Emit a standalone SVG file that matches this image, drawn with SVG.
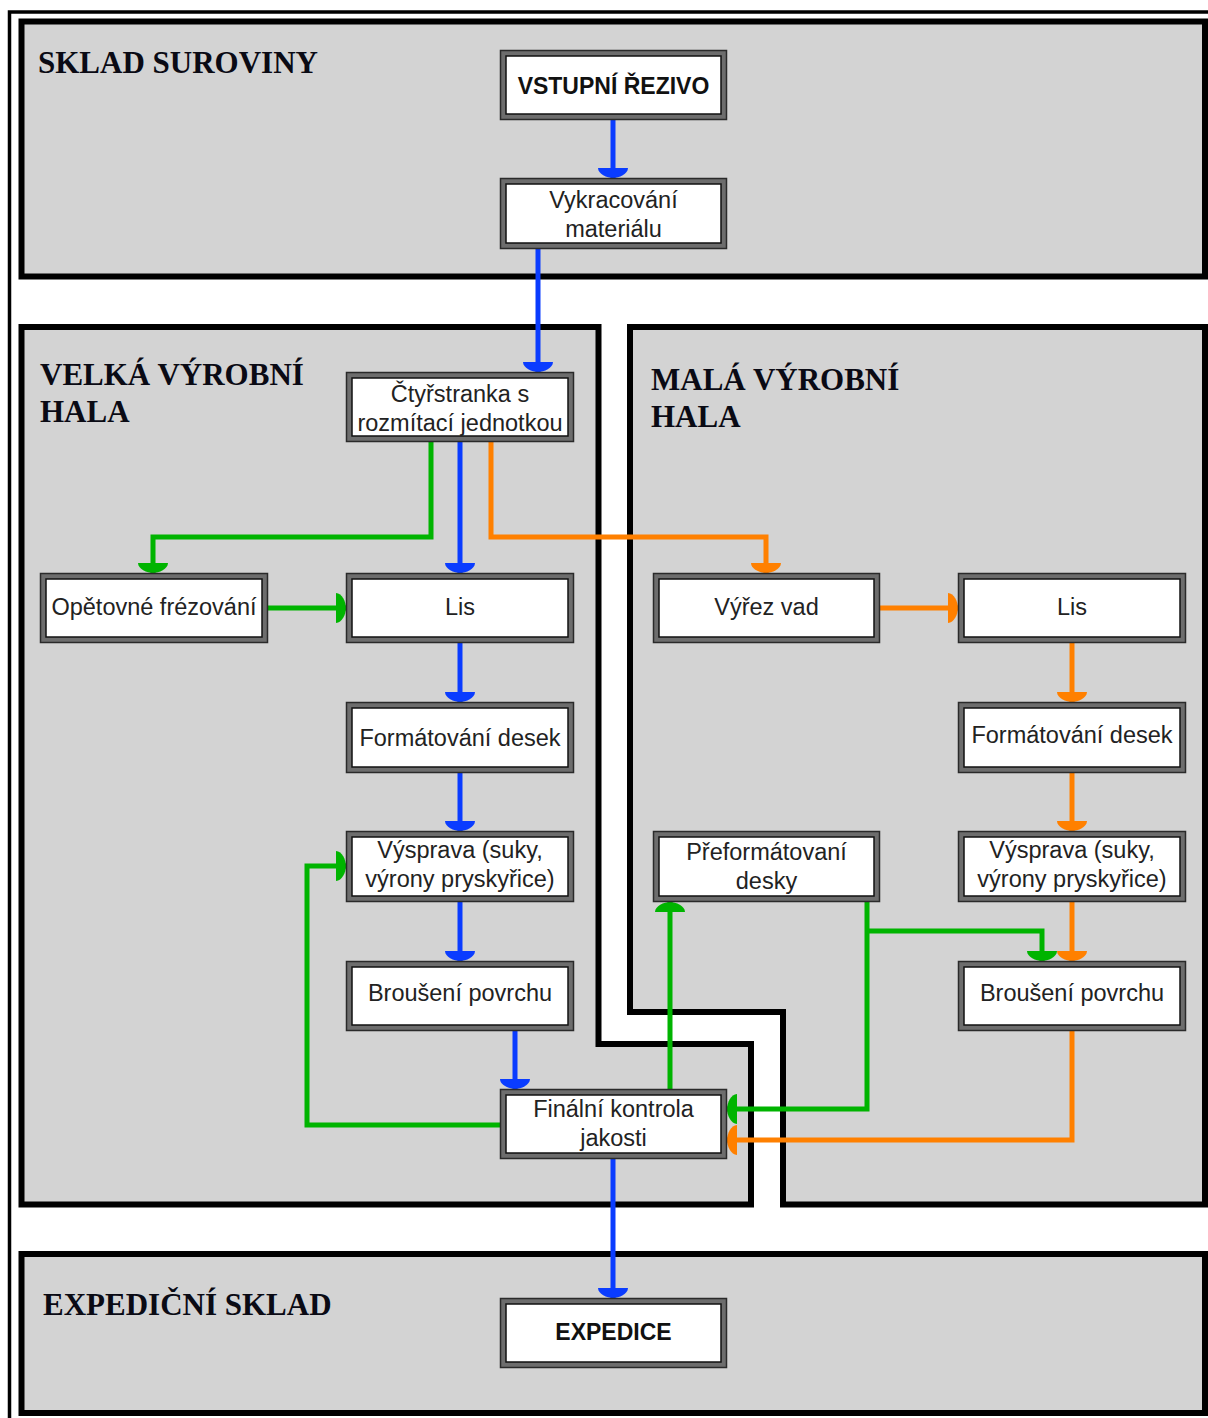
<svg xmlns="http://www.w3.org/2000/svg" width="1208" height="1418" viewBox="0 0 1208 1418">
<defs>
<style>
.reg{fill:#d3d3d3;stroke:#000;stroke-width:6;stroke-linejoin:miter}
.rt{font-family:"Liberation Serif","Times New Roman",serif;font-weight:bold;font-size:31px;fill:#0a0a14}
.bo{fill:#6d6d6d;stroke:#2a2a2a;stroke-width:1.5}
.bi{fill:#fff;stroke:#111;stroke-width:1.5}
.t{font-family:"Liberation Sans",Arial,sans-serif;font-size:23.5px;fill:#222;text-anchor:middle}
.tb{font-family:"Liberation Sans",Arial,sans-serif;font-size:23px;font-weight:bold;fill:#111;text-anchor:middle}
.c{fill:none;stroke-width:5;stroke-linejoin:miter}
.bl{stroke:#0a3cff}
.gr{stroke:#00b400}
.or{stroke:#ff8000}
</style>
<marker id="ab" markerUnits="userSpaceOnUse" markerWidth="14" markerHeight="32" refX="11" refY="16" orient="auto"><path d="M1,1 L1,31 C7,31 11,22 11,16 C11,10 7,1 1,1 Z" fill="#0a3cff"/></marker>
<marker id="ag" markerUnits="userSpaceOnUse" markerWidth="14" markerHeight="32" refX="11" refY="16" orient="auto"><path d="M1,1 L1,31 C7,31 11,22 11,16 C11,10 7,1 1,1 Z" fill="#00b400"/></marker>
<marker id="ao" markerUnits="userSpaceOnUse" markerWidth="14" markerHeight="32" refX="11" refY="16" orient="auto"><path d="M1,1 L1,31 C7,31 11,22 11,16 C11,10 7,1 1,1 Z" fill="#ff8000"/></marker>
</defs>
<rect width="1208" height="1418" fill="#fff"/>
<rect x="9.5" y="12" width="1400" height="1500" fill="none" stroke="#000" stroke-width="3.5"/>

<g id="regions">
<g id="sklad-suroviny">
<rect class="reg" x="21.5" y="21.5" width="1183.5" height="255"/>
<text class="rt" x="38" y="73">SKLAD SUROVINY</text>
</g>
<g id="velka-hala">
<path class="reg" d="M21.5,327 L598.5,327 L598.5,1044 L751,1044 L751,1204.5 L21.5,1204.5 Z"/>
<text class="rt" x="40" y="385">VELKÁ VÝROBNÍ</text>
<text class="rt" x="40" y="422">HALA</text>
</g>
<g id="mala-hala">
<path class="reg" d="M630,327 L1205,327 L1205,1204.5 L783,1204.5 L783,1012 L630,1012 Z"/>
<text class="rt" x="651" y="390">MALÁ VÝROBNÍ</text>
<text class="rt" x="651" y="427">HALA</text>
</g>
<g id="expedicni-sklad">
<rect class="reg" x="21.5" y="1254" width="1183.5" height="159"/>
<text class="rt" x="43" y="1315">EXPEDIČNÍ SKLAD</text>
</g>
</g>

<g id="connectors">
<path class="c bl" d="M613,120 V178" marker-end="url(#ab)"/>
<path class="c bl" d="M538,249 V372" marker-end="url(#ab)"/>
<path class="c bl" d="M460,442 V573" marker-end="url(#ab)"/>
<path class="c bl" d="M460,643 V702" marker-end="url(#ab)"/>
<path class="c bl" d="M460,773 V831" marker-end="url(#ab)"/>
<path class="c bl" d="M460,902 V961" marker-end="url(#ab)"/>
<path class="c bl" d="M515,1031 V1089" marker-end="url(#ab)"/>
<path class="c bl" d="M613,1159 V1298" marker-end="url(#ab)"/>

<path class="c gr" d="M431,442 V537 H153 V573" marker-end="url(#ag)"/>
<path class="c gr" d="M268,608 H346" marker-end="url(#ag)"/>
<path class="c gr" d="M500,1125 H307 V866 H346" marker-end="url(#ag)"/>
<path class="c gr" d="M670,1089 V902" marker-end="url(#ag)"/>
<path class="c gr" d="M867,902 V1109 H727" marker-end="url(#ag)"/>
<path class="c gr" d="M867,931 H1042 V961" marker-end="url(#ag)"/>

<path class="c or" d="M491,442 V537 H766 V573" marker-end="url(#ao)"/>
<path class="c or" d="M880,608 H958" marker-end="url(#ao)"/>
<path class="c or" d="M1072,643 V702" marker-end="url(#ao)"/>
<path class="c or" d="M1072,773 V831" marker-end="url(#ao)"/>
<path class="c or" d="M1072,902 V961" marker-end="url(#ao)"/>
<path class="c or" d="M1072,1031 V1140 H727" marker-end="url(#ao)"/>
</g>

<g id="n-vstupni">
<rect class="bo" x="500.5" y="50.5" width="226" height="69"/>
<rect class="bi" x="506" y="56" width="215" height="58"/>
<text class="tb" x="613.5" y="94">VSTUPNÍ ŘEZIVO</text>
</g>
<g id="n-vykracovani">
<rect class="bo" x="500.5" y="178.5" width="226" height="70"/>
<rect class="bi" x="506" y="184" width="215" height="59"/>
<text class="t" x="613.5" y="208">Vykracování</text>
<text class="t" x="613.5" y="237">materiálu</text>
</g>
<g id="n-ctyrstranka">
<rect class="bo" x="346.5" y="372.5" width="227" height="69"/>
<rect class="bi" x="352" y="378" width="216" height="58"/>
<text class="t" x="460" y="402">Čtyřstranka s</text>
<text class="t" x="460" y="431">rozmítací jednotkou</text>
</g>
<g id="n-opetovne">
<rect class="bo" x="40.5" y="573.5" width="227" height="69"/>
<rect class="bi" x="46" y="579" width="216" height="58"/>
<text class="t" x="154" y="615">Opětovné frézování</text>
</g>
<g id="n-lis-l">
<rect class="bo" x="346.5" y="573.5" width="227" height="69"/>
<rect class="bi" x="352" y="579" width="216" height="58"/>
<text class="t" x="460" y="615">Lis</text>
</g>
<g id="n-format-l">
<rect class="bo" x="346.5" y="702.5" width="227" height="70"/>
<rect class="bi" x="352" y="708" width="216" height="59"/>
<text class="t" x="460" y="746">Formátování desek</text>
</g>
<g id="n-vysprava-l">
<rect class="bo" x="346.5" y="831.5" width="227" height="70"/>
<rect class="bi" x="352" y="837" width="216" height="59"/>
<text class="t" x="460" y="858">Výsprava (suky,</text>
<text class="t" x="460" y="887">výrony pryskyřice)</text>
</g>
<g id="n-brouseni-l">
<rect class="bo" x="346.5" y="961.5" width="227" height="69"/>
<rect class="bi" x="352" y="967" width="216" height="58"/>
<text class="t" x="460" y="1001">Broušení povrchu</text>
</g>
<g id="n-finalni">
<rect class="bo" x="500.5" y="1089.5" width="226" height="69"/>
<rect class="bi" x="506" y="1095" width="215" height="58"/>
<text class="t" x="613.5" y="1117">Finální kontrola</text>
<text class="t" x="613.5" y="1146">jakosti</text>
</g>
<g id="n-vyrez">
<rect class="bo" x="653.5" y="573.5" width="226" height="69"/>
<rect class="bi" x="659" y="579" width="215" height="58"/>
<text class="t" x="766.5" y="615">Výřez vad</text>
</g>
<g id="n-lis-r">
<rect class="bo" x="958.5" y="573.5" width="227" height="69"/>
<rect class="bi" x="964" y="579" width="216" height="58"/>
<text class="t" x="1072" y="615">Lis</text>
</g>
<g id="n-format-r">
<rect class="bo" x="958.5" y="702.5" width="227" height="70"/>
<rect class="bi" x="964" y="708" width="216" height="59"/>
<text class="t" x="1072" y="743">Formátování desek</text>
</g>
<g id="n-preformatovani">
<rect class="bo" x="653.5" y="831.5" width="226" height="70"/>
<rect class="bi" x="659" y="837" width="215" height="59"/>
<text class="t" x="766.5" y="860">Přeformátovaní</text>
<text class="t" x="766.5" y="889">desky</text>
</g>
<g id="n-vysprava-r">
<rect class="bo" x="958.5" y="831.5" width="227" height="70"/>
<rect class="bi" x="964" y="837" width="216" height="59"/>
<text class="t" x="1072" y="858">Výsprava (suky,</text>
<text class="t" x="1072" y="887">výrony pryskyřice)</text>
</g>
<g id="n-brouseni-r">
<rect class="bo" x="958.5" y="961.5" width="227" height="69"/>
<rect class="bi" x="964" y="967" width="216" height="58"/>
<text class="t" x="1072" y="1001">Broušení povrchu</text>
</g>
<g id="n-expedice">
<rect class="bo" x="500.5" y="1298.5" width="226" height="69"/>
<rect class="bi" x="506" y="1304" width="215" height="58"/>
<text class="tb" x="613.5" y="1340">EXPEDICE</text>
</g>
</svg>
